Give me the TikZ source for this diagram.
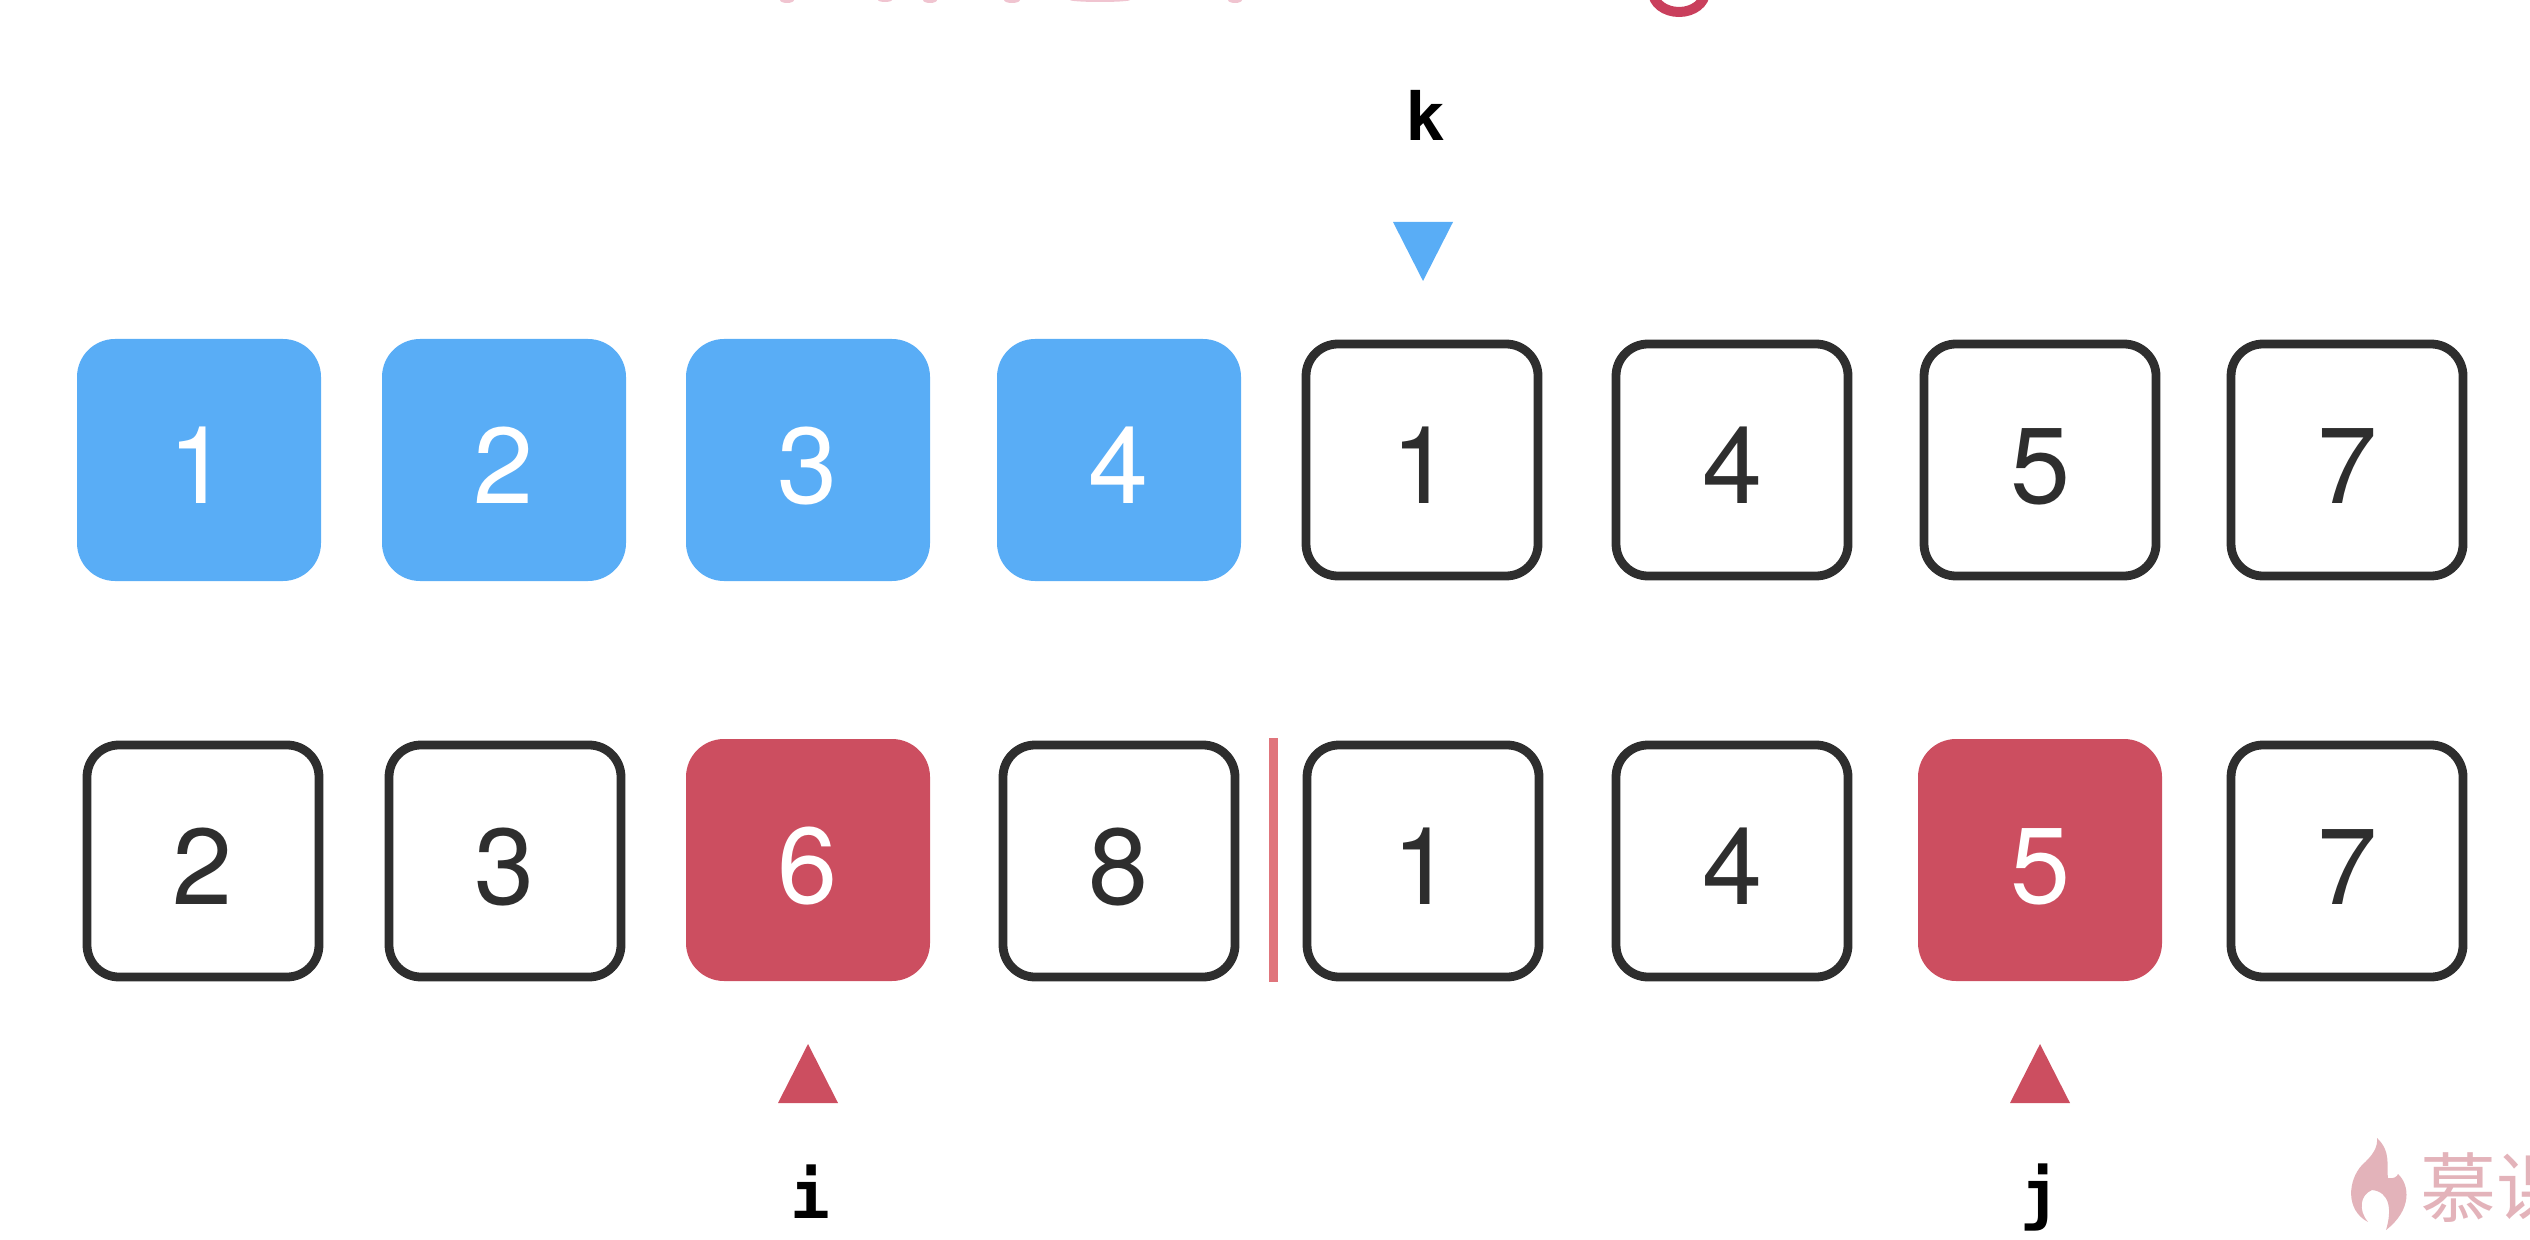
\documentclass[tikz,border=0pt]{standalone}
\usepackage{fontspec}
\setmainfont{TeX Gyre Heros}
\newfontfamily\monob{DejaVu Sans Mono}[Scale=1]
\newfontfamily\cjkf{Noto Sans CJK SC}
\definecolor{bluefill}{HTML}{59ADF6}
\definecolor{redfill}{HTML}{CC4E60}
\definecolor{inkline}{HTML}{2E2E2E}
\definecolor{sepred}{HTML}{E0757C}
\definecolor{wmark}{HTML}{E3B3BA}
\definecolor{titlered}{HTML}{C93F5C}
\definecolor{titlepale}{HTML}{F0C4D0}
\tikzset{
  x=0.5pt,y=-0.5pt,
  cell/.style={font=\fontsize{54pt}{54pt}\selectfont,inner sep=0pt,text height=43.5pt,text depth=0pt,anchor=center},
  fillcell/.style={cell,minimum width=122pt,minimum height=121pt,rounded corners=19pt},
  bluecell/.style={fillcell,fill=bluefill,text=white},
  redcell/.style={fillcell,fill=redfill,text=white},
  whitecell/.style={cell,draw=inkline,line width=4.4pt,minimum width=116pt,minimum height=116pt,rounded corners=16pt,text=inkline},
  ptrlabel/.style={font=\monob\bfseries\fontsize{33pt}{33pt}\selectfont,text=black,inner sep=0pt},
}
\begin{document}
\begin{tikzpicture}
\useasboundingbox (0,0) rectangle (2530,1240);
% row 1
\node[bluecell] (a1) at (199,460) {1};
\node[bluecell] (a2) at (504,460) {2};
\node[bluecell] (a3) at (808,460) {3};
\node[bluecell] (a4) at (1119,460) {4};
\node[whitecell] (a5) at (1422,460) {1};
\node[whitecell] (a6) at (1732,460) {4};
\node[whitecell] (a7) at (2040,460) {5};
\node[whitecell] (a8) at (2347,460) {7};
% row 2
\node[whitecell] (b1) at (203,861) {2};
\node[whitecell] (b2) at (505,861) {3};
\node[redcell] (b3) at (808,860) {6};
\node[whitecell] (b4) at (1119,861) {8};
\node[whitecell] (b5) at (1423,861) {1};
\node[whitecell] (b6) at (1732,861) {4};
\node[redcell] (b7) at (2040,860) {5};
\node[whitecell] (b8) at (2347,861) {7};
% separator
\fill[sepred] (1269,738) rectangle (1278,982);
% pointers
\fill[bluefill] (1393,222) -- (1453,222) -- (1423,281) -- cycle;
\fill[redfill] (778,1103) -- (838,1103) -- (808,1044) -- cycle;
\fill[redfill] (2010,1103) -- (2070,1103) -- (2040,1044) -- cycle;
\node[ptrlabel] (k) at (1425,115) {k};
\node[ptrlabel] (i) at (810,1192) {i};
\node[ptrlabel] (j) at (2040,1197) {j};
% watermark
\begin{scope}
\clip (0,0) rectangle (2530,1240);
\fill[wmark] (2377,1138) .. controls (2392,1152) and (2386,1168) .. (2388,1178) .. controls (2393,1179) and (2397,1177) .. (2398,1174) .. controls (2410,1185) and (2412,1210) .. (2386,1230) .. controls (2392,1210) and (2390,1192) .. (2372,1190) .. controls (2360,1195) and (2358,1210) .. (2368,1222) .. controls (2345,1210) and (2348,1180) .. (2362,1165) .. controls (2372,1156) and (2378,1148) .. (2377,1138) -- cycle;
\node[font=\cjkf\fontsize{38pt}{38pt}\selectfont,text=wmark,anchor=west,inner sep=0pt] (wm) at (2420,1188) {慕课};
\end{scope}
% clipped title fragment
\begin{scope}
\clip (0,0) rectangle (2530,1240);
\draw[titlered,line width=5pt] (1653,-8) arc[start angle=180,end angle=0,x radius=26,y radius=20];
\fill[titlepale] (787,0) ellipse[x radius=7,y radius=3];
\fill[titlepale] (930,0) ellipse[x radius=7,y radius=3];
\fill[titlepale] (1012,0) ellipse[x radius=8,y radius=3];
\fill[titlepale] (885,0) ellipse[x radius=7,y radius=2];
\fill[titlepale] (1100,0) ellipse[x radius=30,y radius=2];
\fill[titlepale] (1235,0) ellipse[x radius=7,y radius=3];
\end{scope}
\end{tikzpicture}
\end{document}
